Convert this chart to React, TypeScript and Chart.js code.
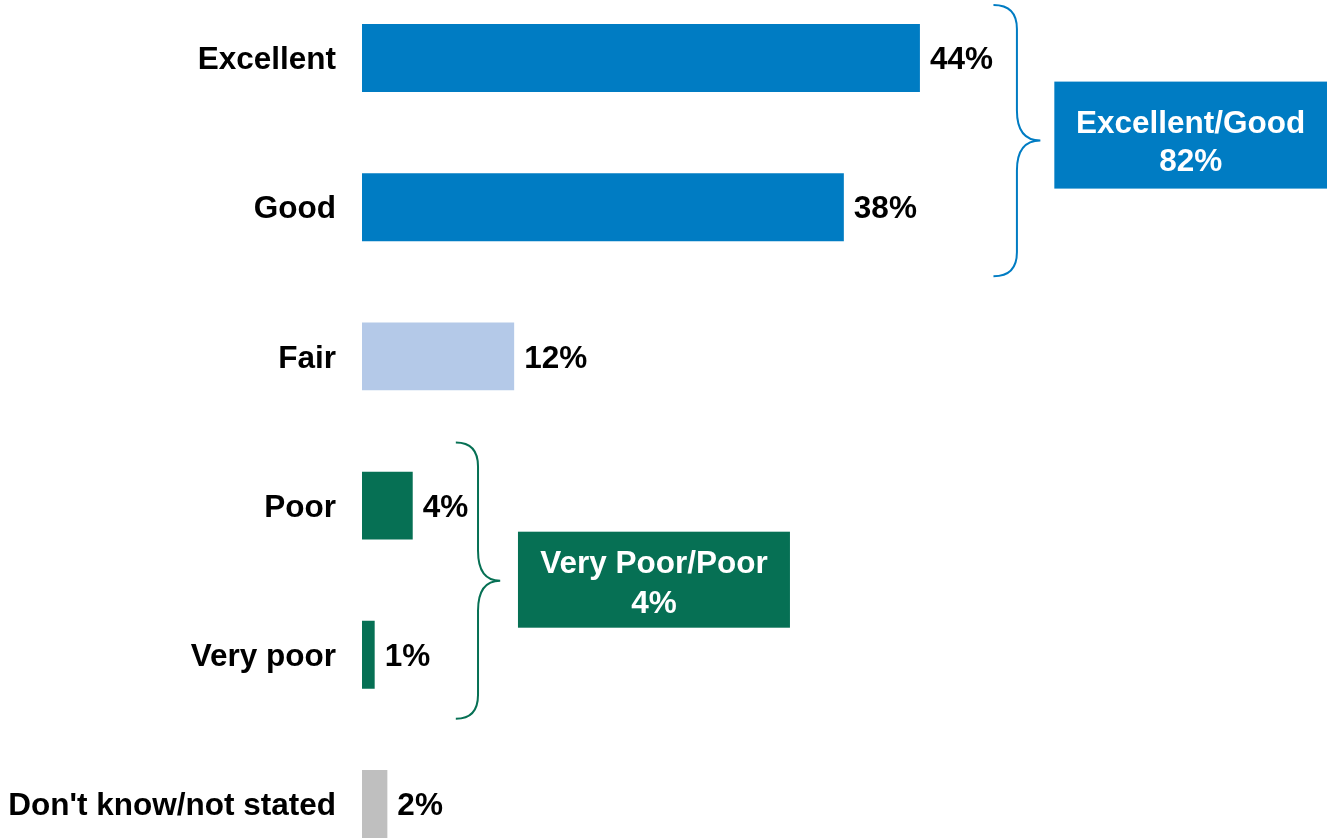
import React, { useEffect, useRef } from "react";
import { Chart, registerables } from "chart.js";

Chart.register(...registerables);

const categories = ["Excellent", "Good", "Fair", "Poor", "Very poor", "Don't know/not stated"];
const values = [44, 38, 12, 4, 1, 2];
const barColors = ["#007CC3", "#007CC3", "#B4C9E8", "#067054", "#067054", "#BFBFBF"];
const groupTitles = ["Excellent/Good", "Very Poor/Poor"];
const groupTotals = ["82%", "4%"];

const FONT = "'Liberation Sans', Arial, Helvetica, sans-serif";

type Group = {
  from: number; to: number; color: string; text: string; total: string;
  braceX: number; tipX: number; boxFrom: number; boxTo: number | null;
  extTop: number; extBottom: number; boxTop: number; boxBottom: number;
  line1: number; line2: number;
};

const groups: Group[] = [
  { from: 0, to: 1, color: "#007CC3", text: groupTitles[0], total: groupTotals[0],
    braceX: 51.65, tipX: 53.5, boxFrom: 54.6, boxTo: null,
    extTop: 53, extBottom: 69, boxTop: -59, boxBottom: 48, line1: -11, line2: 27 },
  { from: 3, to: 4, color: "#067054", text: groupTitles[1], total: groupTotals[1],
    braceX: 9.15, tipX: 10.9, boxFrom: 12.3, boxTo: 33.75,
    extTop: 63, extBottom: 64, boxTop: -49, boxBottom: 47, line1: -15.5, line2: 24.5 },
];

const overlayPlugin = {
  id: "overlay",
  afterDatasetsDraw(chart: any) {
    const ctx = chart.ctx;
    const xs = chart.scales.x;
    const ys = chart.scales.y;
    const meta = chart.getDatasetMeta(0);
    ctx.save();
    ctx.font = `bold 31.5px ${FONT}`;
    ctx.fillStyle = "#000";
    ctx.textAlign = "left";
    ctx.textBaseline = "middle";
    meta.data.forEach((bar: any, i: number) => {
      ctx.fillText(`${values[i]}%`, bar.x + 10, bar.y + 2.5);
    });
    groups.forEach((g) => {
      const yA = ys.getPixelForValue(g.from);
      const yB = ys.getPixelForValue(g.to);
      const top = yA - g.extTop;
      const bottom = yB + g.extBottom;
      const mid = (top + bottom) / 2;
      const xv = xs.getPixelForValue(g.braceX);
      const xt = xs.getPixelForValue(g.tipX);
      const w = xt - xv;
      ctx.strokeStyle = g.color;
      ctx.lineWidth = 2;
      ctx.beginPath();
      ctx.moveTo(xv - w, top);
      ctx.quadraticCurveTo(xv, top, xv, top + 24);
      ctx.lineTo(xv, mid - 30);
      ctx.quadraticCurveTo(xv, mid, xt, mid);
      ctx.quadraticCurveTo(xv, mid, xv, mid + 30);
      ctx.lineTo(xv, bottom - 24);
      ctx.quadraticCurveTo(xv, bottom, xv - w, bottom);
      ctx.stroke();
      const bx0 = xs.getPixelForValue(g.boxFrom);
      const bx1 = g.boxTo === null ? chart.width : xs.getPixelForValue(g.boxTo);
      const by0 = mid + g.boxTop;
      const by1 = mid + g.boxBottom;
      ctx.fillStyle = g.color;
      ctx.fillRect(bx0, by0, bx1 - bx0, by1 - by0);
      ctx.fillStyle = "#fff";
      ctx.textAlign = "center";
      ctx.textBaseline = "middle";
      ctx.font = `bold 31.5px ${FONT}`;
      const cx = (bx0 + bx1) / 2;
      const cy = (by0 + by1) / 2;
      ctx.fillText(g.text, cx, cy + g.line1);
      ctx.fillText(g.total, cx, cy + g.line2);
    });
    ctx.restore();
  },
};

export default function App() {
  const ref = useRef<HTMLCanvasElement | null>(null);
  useEffect(() => {
    if (!ref.current) return;
    const chart = new Chart(ref.current, {
      type: "bar",
      data: {
        labels: categories,
        datasets: [
          {
            data: values,
            backgroundColor: barColors,
            borderWidth: 0,
            categoryPercentage: 1,
            barPercentage: 0.455,
            clip: false,
          } as any,
        ],
      },
      options: {
        indexAxis: "y",
        animation: false,
        responsive: true,
        maintainAspectRatio: false,
        layout: { padding: { top: 58, bottom: 35, left: 0, right: 331 } },
        plugins: { legend: { display: false }, tooltip: { enabled: false } },
        scales: {
          x: { display: false, min: 0, max: 50 },
          y: {
            type: "category",
            offset: false,
            grid: { display: false, drawTicks: false },
            border: { display: false },
            ticks: {
              color: "#000",
              padding: 26,
              labelOffset: 2.5,
              font: { family: FONT, size: 31.5, weight: "bold" },
            },
            afterFit: (s: any) => {
              s.width = 362;
              s.paddingTop = 0;
              s.paddingBottom = 0;
            },
          },
        },
      },
      plugins: [overlayPlugin],
    });
    return () => chart.destroy();
  }, []);
  return (
    <div style={{ position: "fixed", left: 0, top: 0, width: 1327, height: 839, background: "#fff" }}>
      <canvas ref={ref} />
    </div>
  );
}
